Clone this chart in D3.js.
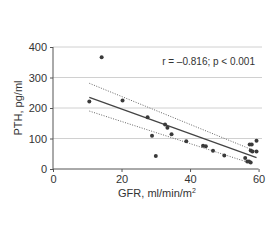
<!DOCTYPE html>
<html>
<head>
<meta charset="utf-8">
<script src="https://cdn.jsdelivr.net/npm/d3@7"></script>
<style>
body { margin: 0; background: #fff; }
text { font-family: "Liberation Sans", Arial, sans-serif; fill: #333; }
</style>
</head>
<body>
<svg width="280" height="240"></svg>
<script>
// scatter points
const gfr = [14.2, 10.6, 20.3, 27.6, 28.9, 30.0, 32.7, 33.4, 34.6, 38.9, 43.8, 44.6, 46.7, 50.0,
             56.1, 56.7, 57.2, 57.7, 57.4, 58.0, 57.7, 58.2, 59.4, 59.4];
const pth = [366, 221, 225, 170, 109, 43, 146, 135, 114, 91, 76, 75, 60, 44,
             36, 25, 25, 21, 80, 80, 61, 57, 93, 57];

// regression line and its bands (end points)
const fitX = [10.6, 59.4], fitY = [235, 37];
const upX = [10.6, 58.8], upY = [281, 60];
const loX = [10.6, 58.0], loY = [190, 18];

const xTicks = [0, 20, 40, 60];
const yTicks = [0, 100, 200, 300, 400];

const svg = d3.select("svg");
const x = d3.scaleLinear().domain([0, 61]).range([53, 262]);
const y = d3.scaleLinear().domain([0, 400]).range([169, 47]);

// grid
svg.append("g").selectAll("line")
  .data(yTicks.slice(1)).join("line")
    .attr("x1", x(0)).attr("x2", x(61))
    .attr("y1", d => y(d)).attr("y2", d => y(d))
    .attr("stroke", "#d0d0d0").attr("stroke-width", 1);

// axes
const xAxis = svg.append("g").attr("transform", `translate(0,${y(0)})`)
  .call(d3.axisBottom(x).tickValues(xTicks).tickSize(3).tickSizeOuter(0));
const yAxis = svg.append("g").attr("transform", `translate(${x(0)},0)`)
  .call(d3.axisLeft(y).tickValues(yTicks).tickSize(3).tickSizeOuter(0));
[xAxis, yAxis].forEach(a => {
  a.select(".domain").attr("stroke", "#555");
  a.selectAll(".tick line").attr("stroke", "#555");
  a.selectAll(".tick text").attr("font-size", 11).attr("fill", "#333")
    .style("font-family", "Liberation Sans, Arial, sans-serif");
});
yAxis.select(".domain").attr("d", `M0,${y(0)}V${y(400)}`);
xAxis.select(".domain").attr("d", `M0,0H${x(60) - 0}`).attr("transform", null);
xAxis.select(".domain").attr("d", `M${x(0)},0H${x(60)}`);

// lines
const line = d3.line().x(d => x(d[0])).y(d => y(d[1]));
const pairs = (xs, ys) => xs.map((v, i) => [v, ys[i]]);

svg.append("path").datum(pairs(upX, upY)).attr("d", line)
  .attr("fill", "none").attr("stroke", "#666").attr("stroke-width", 1)
  .attr("stroke-dasharray", "1,1.5");
svg.append("path").datum(pairs(loX, loY)).attr("d", line)
  .attr("fill", "none").attr("stroke", "#666").attr("stroke-width", 1)
  .attr("stroke-dasharray", "1,1.5");
svg.append("path").datum(pairs(fitX, fitY)).attr("d", line)
  .attr("fill", "none").attr("stroke", "#444").attr("stroke-width", 1.3);

// points
svg.append("g").selectAll("circle")
  .data(pairs(gfr, pth)).join("circle")
    .attr("cx", d => x(d[0])).attr("cy", d => y(d[1]))
    .attr("r", 2).attr("fill", "#3a3a3a");

// labels
svg.append("text").attr("x", 255).attr("y", 65).attr("text-anchor", "end")
  .attr("font-size", 10).text("r = \u20130.816; p < 0.001");
svg.append("text").attr("x", 157).attr("y", 197).attr("text-anchor", "middle")
  .attr("font-size", 11).html("GFR, ml/min/m<tspan dy='-4' font-size='7'>2</tspan>");
svg.append("text").attr("transform", "translate(22,108) rotate(-90)")
  .attr("text-anchor", "middle").attr("font-size", 11).text("PTH, pg/ml");
</script>
</body>
</html>
